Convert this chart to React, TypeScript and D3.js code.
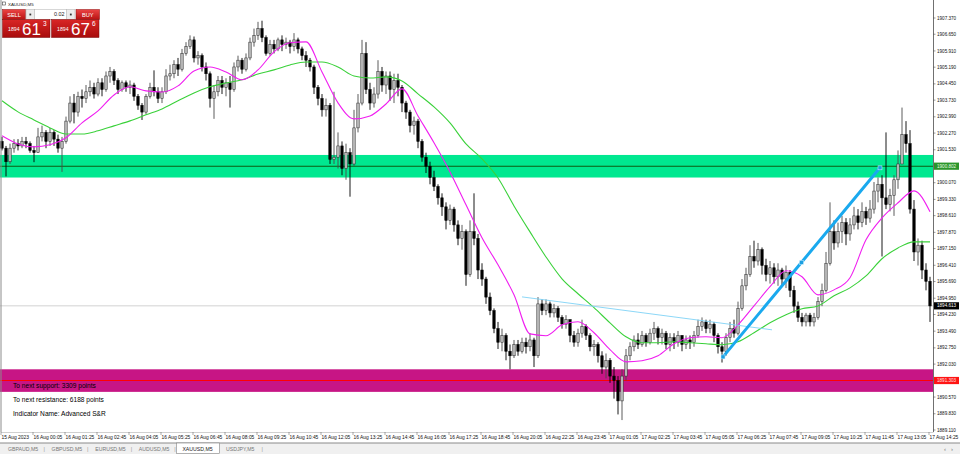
import React, { useEffect, useRef } from 'react';
import * as d3 from 'd3';

// XAUUSD M5 screenshot, resampled to one candle per 10 minutes (233 candles)
const symbol = 'XAUUSD,M5';
const firstOpen = 1901.9;

const closes = [
  1901.6, 1901.0, 1901.6, 1901.8, 1901.7, 1901.9, 1901.8, 1901.5, 1901.4, 1902.1,
  1902.3, 1901.9, 1902.3, 1902.0, 1901.6, 1901.9, 1902.8, 1903.6, 1903.2, 1903.9,
  1903.8, 1904.1, 1904.3, 1904.0, 1904.5, 1904.2, 1904.8, 1905.0, 1904.6, 1904.2,
  1904.5, 1904.3, 1904.4, 1903.9, 1903.5, 1903.2, 1903.9, 1904.3, 1904.1, 1903.8,
  1904.1, 1904.8, 1904.9, 1905.3, 1905.1, 1905.8, 1906.1, 1906.4, 1905.6, 1905.7,
  1905.2, 1904.9, 1903.8, 1904.1, 1904.6, 1904.3, 1904.5, 1904.2, 1905.2, 1905.5,
  1905.1, 1905.6, 1906.3, 1906.6, 1906.9, 1906.5, 1905.8, 1906.2, 1906.0, 1906.4,
  1906.2, 1906.3, 1906.1, 1906.4, 1906.0, 1905.7, 1905.5, 1905.2, 1904.3, 1903.8,
  1903.3, 1903.5, 1901.1, 1901.2, 1901.7, 1900.7, 1901.4, 1900.9, 1902.5, 1903.6,
  1905.8, 1904.2, 1903.6, 1904.0, 1905.0, 1904.4, 1904.8, 1904.2, 1904.6, 1904.3,
  1903.6, 1903.2, 1902.6, 1902.8, 1901.9, 1901.2, 1900.8, 1900.3, 1899.9, 1899.4,
  1899.0, 1898.4, 1898.9, 1898.2, 1897.6, 1897.9, 1896.0, 1897.9, 1897.6, 1896.2,
  1895.8, 1895.0, 1894.4, 1893.6, 1893.0, 1893.3, 1892.6, 1892.4, 1892.9, 1892.6,
  1893.0, 1892.8, 1893.1, 1892.4, 1894.7, 1894.4, 1894.7, 1894.3, 1894.5, 1894.1,
  1893.8, 1894.0, 1893.3, 1893.0, 1893.4, 1893.7, 1893.3, 1892.8, 1892.9, 1892.4,
  1891.9, 1892.2, 1891.5, 1891.3, 1890.4, 1891.5, 1892.4, 1892.8, 1893.1, 1892.9,
  1893.3, 1893.0, 1893.4, 1893.6, 1893.2, 1893.4, 1892.9, 1893.2, 1893.0, 1893.3,
  1892.9, 1893.1, 1893.0, 1893.3, 1893.7, 1893.9, 1893.6, 1893.8, 1893.3, 1892.8,
  1892.6, 1893.2, 1893.6, 1893.4, 1894.5, 1895.5, 1896.0, 1896.8, 1896.6, 1897.1,
  1896.4, 1896.0, 1896.3, 1895.9, 1896.2, 1895.8, 1896.1, 1895.3, 1894.6, 1894.1,
  1893.9, 1894.2, 1893.9, 1894.1, 1894.8, 1895.3, 1896.5, 1897.9, 1897.4, 1897.9,
  1898.3, 1897.8, 1898.2, 1898.6, 1898.3, 1898.8, 1898.5, 1898.9, 1899.7, 1900.0,
  1899.4, 1899.1, 1899.5, 1900.2, 1900.9, 1902.2, 1901.8, 1898.9, 1897.0, 1897.3,
  1896.2, 1895.7, 1894.61,
];

const highs = [
  1902.1, 1901.7, 1901.8, 1902.0, 1902.0, 1902.1, 1902.1, 1901.9, 1901.7, 1902.5,
  1902.6, 1902.4, 1902.5, 1902.4, 1902.2, 1902.1, 1903.0, 1903.9, 1904.0, 1904.1,
  1904.2, 1904.4, 1904.6, 1904.5, 1904.7, 1904.7, 1905.0, 1905.2, 1905.1, 1904.7,
  1904.6, 1904.6, 1904.6, 1904.5, 1904.0, 1903.6, 1904.0, 1904.5, 1905.05, 1904.3,
  1904.3, 1905.1, 1905.3, 1905.5, 1905.6, 1906.0, 1906.3, 1906.6, 1906.55, 1905.9,
  1905.8, 1905.4, 1905.0, 1904.4, 1904.8, 1904.8, 1904.7, 1904.8, 1905.4, 1905.7,
  1905.6, 1905.8, 1906.5, 1906.9, 1907.2, 1907.25, 1906.6, 1906.4, 1906.4, 1906.5,
  1906.6, 1906.5, 1906.4, 1906.7, 1906.5, 1906.1, 1905.9, 1905.6, 1905.3, 1904.4,
  1904.0, 1903.8, 1903.6, 1904.1, 1902.3, 1901.9, 1901.8, 1901.6, 1903.3, 1904.0,
  1906.4, 1906.3, 1904.5, 1904.3, 1905.5, 1905.2, 1905.0, 1905.0, 1904.9, 1904.9,
  1904.4, 1903.7, 1903.3, 1903.0, 1902.9, 1902.0, 1901.4, 1901.0, 1900.6, 1900.0,
  1899.6, 1899.2, 1899.1, 1899.0, 1898.4, 1898.2, 1898.0, 1898.4, 1899.6, 1897.8,
  1896.5, 1895.9, 1895.2, 1894.5, 1893.9, 1893.6, 1893.4, 1892.9, 1893.1, 1893.1,
  1893.2, 1893.2, 1893.4, 1893.2, 1895.0, 1894.9, 1894.9, 1894.8, 1894.7, 1894.6,
  1894.2, 1894.2, 1894.0, 1893.5, 1893.6, 1894.0, 1893.8, 1893.4, 1893.1, 1893.0,
  1892.6, 1892.5, 1892.3, 1891.9, 1891.5, 1891.8, 1892.7, 1893.0, 1893.3, 1893.4,
  1893.5, 1893.4, 1893.6, 1893.9, 1893.7, 1893.6, 1893.5, 1893.4, 1893.4, 1893.5,
  1893.3, 1893.3, 1893.3, 1893.5, 1894.0, 1894.1, 1894.0, 1894.0, 1893.9, 1893.4,
  1893.0, 1893.4, 1893.9, 1894.0, 1894.8, 1895.8, 1896.3, 1897.3, 1897.5, 1897.4,
  1897.2, 1896.7, 1896.6, 1896.5, 1896.5, 1896.3, 1896.4, 1896.2, 1895.5, 1894.8,
  1894.3, 1894.3, 1894.3, 1894.3, 1895.0, 1895.6, 1897.0, 1899.2, 1898.4, 1898.3,
  1898.6, 1898.5, 1898.5, 1899.0, 1898.9, 1899.2, 1899.0, 1899.3, 1900.1, 1900.3,
  1900.4, 1902.3, 1899.8, 1900.4, 1901.5, 1903.4, 1902.8, 1902.4, 1899.3, 1897.6,
  1897.5, 1896.5, 1895.9,
];

const lows = [
  1901.5, 1900.35, 1900.9, 1901.4, 1901.5, 1901.6, 1901.6, 1901.4, 1900.98, 1901.4,
  1901.9, 1901.6, 1901.7, 1901.7, 1901.4, 1900.55, 1901.8, 1902.7, 1902.7, 1903.0,
  1903.4, 1903.6, 1903.9, 1903.8, 1903.9, 1903.9, 1904.1, 1904.5, 1904.4, 1904.0,
  1904.1, 1904.1, 1904.0, 1903.7, 1903.3, 1902.85, 1903.1, 1903.8, 1903.9, 1903.6,
  1903.6, 1904.0, 1904.6, 1904.7, 1904.8, 1905.0, 1905.7, 1906.0, 1905.4, 1905.3,
  1905.0, 1904.6, 1903.4, 1902.9, 1903.9, 1904.0, 1903.9, 1903.4, 1904.1, 1905.0,
  1904.9, 1905.0, 1905.5, 1906.1, 1906.4, 1906.3, 1905.7, 1905.7, 1905.8, 1905.9,
  1905.9, 1906.0, 1905.8, 1905.9, 1905.8, 1905.5, 1905.2, 1905.0, 1904.0, 1903.5,
  1903.0, 1903.0, 1900.9, 1900.9, 1900.7, 1900.4, 1900.2, 1899.45, 1900.8, 1902.3,
  1903.5, 1904.0, 1903.3, 1903.4, 1903.8, 1904.1, 1904.0, 1903.7, 1903.6, 1903.9,
  1903.2, 1902.9, 1902.3, 1902.2, 1901.6, 1901.0, 1900.5, 1900.0, 1899.7, 1899.1,
  1898.6, 1898.0, 1898.2, 1897.9, 1897.3, 1897.1, 1895.5, 1895.9, 1897.3, 1895.8,
  1895.5, 1894.7, 1894.2, 1893.4, 1892.7, 1892.6, 1892.2, 1891.8, 1892.3, 1892.4,
  1892.5, 1892.5, 1892.6, 1891.9, 1892.3, 1894.2, 1894.2, 1894.1, 1894.1, 1893.9,
  1893.6, 1893.6, 1893.0, 1892.8, 1892.8, 1893.2, 1893.1, 1892.6, 1892.4, 1892.1,
  1891.6, 1891.4, 1891.2, 1890.5, 1889.8, 1889.55, 1891.3, 1892.2, 1892.6, 1892.7,
  1892.8, 1892.8, 1892.9, 1893.1, 1892.9, 1892.9, 1892.7, 1892.6, 1892.7, 1892.8,
  1892.6, 1892.7, 1892.7, 1892.8, 1893.2, 1893.5, 1893.4, 1893.4, 1893.0, 1892.5,
  1892.1, 1892.4, 1893.0, 1893.2, 1893.3, 1894.4, 1895.3, 1895.9, 1896.3, 1896.4,
  1896.0, 1895.7, 1895.6, 1895.6, 1895.5, 1895.5, 1895.4, 1895.0, 1894.3, 1893.9,
  1893.7, 1893.7, 1893.7, 1893.7, 1894.0, 1894.6, 1895.2, 1896.4, 1897.1, 1897.2,
  1897.4, 1897.3, 1897.5, 1898.0, 1898.0, 1898.1, 1898.2, 1898.3, 1898.7, 1899.2,
  1896.8, 1898.9, 1898.8, 1898.6, 1899.8, 1900.9, 1901.4, 1898.7, 1896.6, 1896.4,
  1895.8, 1895.3, 1893.9,
];

// moving averages, one reading every 4 candles
const maStep = 4;
const maFast = [
  1902.15, 1901.79, 1901.66, 1901.75, 1902.06, 1902.72, 1903.25, 1903.96, 1904.32, 1904.14,
  1904.09, 1904.36, 1905.02, 1905.20, 1904.98, 1904.63, 1905.07, 1905.87, 1906.27, 1906.31,
  1904.98, 1903.61, 1902.90, 1903.03, 1903.56, 1904.23, 1903.03, 1901.84, 1900.55, 1899.09,
  1897.63, 1896.43, 1895.10, 1893.37, 1893.29, 1893.77, 1893.91, 1893.42, 1892.67, 1892.13,
  1892.18, 1892.40, 1892.93, 1893.20, 1893.24, 1893.20, 1893.77, 1894.61, 1895.46, 1896.17,
  1895.90, 1895.10, 1895.32, 1895.86, 1897.54, 1898.51, 1899.18, 1899.71, 1898.78,
];
const maSlow = [
  1903.70, 1903.21, 1902.85, 1902.50, 1902.23, 1902.23, 1902.37, 1902.59, 1902.81, 1903.08,
  1903.34, 1903.70, 1904.05, 1904.32, 1904.49, 1904.63, 1904.89, 1905.07, 1905.29, 1905.42,
  1905.42, 1905.20, 1904.80, 1904.71, 1904.76, 1904.58, 1904.01, 1903.43, 1902.72, 1901.79,
  1901.13, 1900.28, 1899.04, 1897.89, 1896.78, 1895.81, 1895.15, 1894.53, 1893.86, 1893.24,
  1892.98, 1892.98, 1893.02, 1892.98, 1892.93, 1892.89, 1893.02, 1893.42, 1893.86, 1894.22,
  1894.48, 1894.61, 1895.06, 1895.41, 1895.94, 1896.70, 1897.18, 1897.45, 1897.45,
];

const priceTicks = [
  1907.37, 1906.65, 1905.91, 1905.19, 1904.45, 1903.73, 1902.99, 1902.27, 1901.53,
  1900.07, 1899.33, 1898.61, 1897.87, 1897.15, 1896.41, 1895.69, 1894.95, 1894.23,
  1893.49, 1892.75, 1892.03, 1890.57, 1889.83, 1889.11,
];

const timeLabels = [
  '15 Aug 2023', '16 Aug 00:05', '16 Aug 01:25', '16 Aug 02:45', '16 Aug 04:05', '16 Aug 05:25',
  '16 Aug 06:45', '16 Aug 08:05', '16 Aug 09:25', '16 Aug 10:45', '16 Aug 12:05', '16 Aug 13:25',
  '16 Aug 14:45', '16 Aug 16:05', '16 Aug 17:25', '16 Aug 18:45', '16 Aug 20:05', '16 Aug 22:25',
  '16 Aug 23:45', '17 Aug 01:05', '17 Aug 02:25', '17 Aug 03:45', '17 Aug 05:05', '17 Aug 06:25',
  '17 Aug 07:45', '17 Aug 09:05', '17 Aug 10:25', '17 Aug 11:45', '17 Aug 13:05', '17 Aug 14:25',
];
const labelEvery = 8;

const resistanceZone = [1900.30, 1901.30];
const resistanceLevel = 1900.802;
const supportZone = [1890.80, 1891.80];
const supportLevel = 1891.303;
const lastPrice = 1894.613;

// [candle index, price]
const trendLine = [[130, 1895.01], [192.5, 1893.55]];
const arrowLine = [[180.25, 1892.35], [219.5, 1900.73]];

const infoLines = [
  'To next support: 3309 points',
  'To next resistance: 6188 points',
  'Indicator Name: Advanced S&R',
];

const tabs = ['GBPAUD,M5', 'GBPUSD,M5', 'EURUSD,M5', 'AUDUSD,M5', 'XAUUSD,M5', 'USDJPY,M5'];
const activeTab = 'XAUUSD,M5';

const sellQuote = { big: '1894', pips: '61', frac: '3' };
const buyQuote = { big: '1894', pips: '67', frac: '6' };
const lotSize = '0.02';

const W = 960;
const H = 454;
const FONT = "'Liberation Sans', Arial, sans-serif";

export default function App() {
  const svgRef = useRef<SVGSVGElement>(null);

  useEffect(() => {
    document.body.style.margin = '0';
    if (!svgRef.current) return;
    const svg = d3.select(svgRef.current);
    svg.selectAll('*').remove();

    const plotRight = 933;
    const plotBottom = 432;

    const x = d3.scaleLinear().domain([0, closes.length - 1]).range([2, 930]);
    const y = d3.scaleLinear().domain([1889.11, 1907.37]).range([430, 18]);

    svg.append('rect').attr('width', W).attr('height', H).attr('fill', '#fff');

    const defs = svg.append('defs');
    const grad = defs.append('linearGradient').attr('id', 'btnRed').attr('x1', 0).attr('y1', 0).attr('x2', 0).attr('y2', 1);
    grad.append('stop').attr('offset', '0%').attr('stop-color', '#ec4444');
    grad.append('stop').attr('offset', '100%').attr('stop-color', '#b81212');
    const grad2 = defs.append('linearGradient').attr('id', 'quoteRed').attr('x1', 0).attr('y1', 0).attr('x2', 0).attr('y2', 1);
    grad2.append('stop').attr('offset', '0%').attr('stop-color', '#d92626');
    grad2.append('stop').attr('offset', '100%').attr('stop-color', '#a80c0c');

    const plot = svg.append('g');

    // support / resistance zones
    const zones = [
      { z: resistanceZone, lvl: resistanceLevel, fill: '#00E890', line: '#0d5c12' },
      { z: supportZone, lvl: supportLevel, fill: '#C71585', line: '#ff0000' },
    ];
    zones.forEach(d => {
      plot.append('rect')
        .attr('x', 0).attr('width', plotRight)
        .attr('y', y(d.z[1])).attr('height', y(d.z[0]) - y(d.z[1]))
        .attr('fill', d.fill);
      plot.append('line')
        .attr('x1', 0).attr('x2', plotRight)
        .attr('y1', y(d.lvl)).attr('y2', y(d.lvl))
        .attr('stroke', d.line).attr('stroke-width', 1.1);
    });

    // last price line
    plot.append('line')
      .attr('x1', 0).attr('x2', plotRight)
      .attr('y1', y(lastPrice)).attr('y2', y(lastPrice))
      .attr('stroke', '#c8c8c8').attr('stroke-width', 0.8);

    // candles
    const bars = closes.map((c, i) => {
      const o = i === 0 ? firstOpen : closes[i - 1];
      return { i, o, c, h: Math.max(highs[i], o, c), l: Math.min(lows[i], o, c) };
    });
    const candles = plot.append('g');
    candles.selectAll('line')
      .data(bars)
      .join('line')
      .attr('x1', d => x(d.i)).attr('x2', d => x(d.i))
      .attr('y1', d => y(d.h)).attr('y2', d => y(d.l))
      .attr('stroke', d => (d.c >= d.o ? '#4a4a4a' : '#000'))
      .attr('stroke-width', 0.9);
    candles.selectAll('rect')
      .data(bars)
      .join('rect')
      .attr('x', d => x(d.i) - 1.2)
      .attr('width', 2.4)
      .attr('y', d => y(Math.max(d.o, d.c)))
      .attr('height', d => Math.max(0.8, Math.abs(y(d.o) - y(d.c))))
      .attr('fill', d => (d.c >= d.o ? '#c0c0c0' : '#000'))
      .attr('stroke', d => (d.c >= d.o ? '#2e2e2e' : '#000'))
      .attr('stroke-width', 0.55);

    // moving averages
    const maLine = d3.line<number>()
      .x((_, k) => x(k * maStep))
      .y(v => y(v))
      .curve(d3.curveMonotoneX);
    plot.append('path').attr('d', maLine(maSlow))
      .attr('fill', 'none').attr('stroke', '#3ad13a').attr('stroke-width', 1.1);
    plot.append('path').attr('d', maLine(maFast))
      .attr('fill', 'none').attr('stroke', '#f01ef0').attr('stroke-width', 1.1);

    // drawn objects
    plot.append('line')
      .attr('x1', x(trendLine[0][0])).attr('y1', y(trendLine[0][1]))
      .attr('x2', x(trendLine[1][0])).attr('y2', y(trendLine[1][1]))
      .attr('stroke', '#7fd2f6').attr('stroke-width', 0.9);

    const ax1 = x(arrowLine[0][0]);
    const ay1 = y(arrowLine[0][1]);
    const ax2 = x(arrowLine[1][0]);
    const ay2 = y(arrowLine[1][1]);
    plot.append('line')
      .attr('x1', ax1).attr('y1', ay1).attr('x2', ax2).attr('y2', ay2)
      .attr('stroke', '#1aa9ee').attr('stroke-width', 3).attr('stroke-linecap', 'round');
    [[ax1, ay1], [(ax1 + ax2) / 2, (ay1 + ay2) / 2], [ax2, ay2]].forEach(([px, py]) => {
      plot.append('rect')
        .attr('x', px - 2).attr('y', py - 2).attr('width', 4).attr('height', 4)
        .attr('fill', '#1c9fe0').attr('stroke', '#d8f2ff').attr('stroke-width', 0.5);
    });

    // indicator text
    infoLines.forEach((t, k) => {
      plot.append('text')
        .attr('x', 13).attr('y', 387.5 + k * 14)
        .attr('font-family', FONT).attr('font-size', 6.6)
        .attr('fill', '#000').text(t);
    });

    // frame
    svg.append('line').attr('x1', 1).attr('x2', 1).attr('y1', 0).attr('y2', plotBottom)
      .attr('stroke', '#8c8c8c').attr('stroke-width', 1);
    svg.append('line').attr('x1', plotRight + 0.5).attr('x2', plotRight + 0.5).attr('y1', 0).attr('y2', plotBottom)
      .attr('stroke', '#707070').attr('stroke-width', 1);
    svg.append('line').attr('x1', 1).attr('x2', plotRight + 0.5).attr('y1', plotBottom + 0.5).attr('y2', plotBottom + 0.5)
      .attr('stroke', '#b0b0b0').attr('stroke-width', 0.6);

    // price axis
    const pAxis = svg.append('g');
    priceTicks.forEach(p => {
      pAxis.append('line')
        .attr('x1', plotRight).attr('x2', plotRight + 2.5)
        .attr('y1', y(p)).attr('y2', y(p))
        .attr('stroke', '#555').attr('stroke-width', 0.6);
      pAxis.append('text')
        .attr('x', 937).attr('y', y(p)).attr('dy', '0.35em')
        .attr('font-family', FONT).attr('font-size', 4.6)
        .attr('fill', '#111').text(p.toFixed(3));
    });
    const tags = [
      { v: resistanceLevel, bg: '#2b952b', fg: '#eaffea' },
      { v: lastPrice, bg: '#000', fg: '#fff' },
      { v: supportLevel, bg: '#ff1414', fg: '#ffe0e0' },
    ];
    tags.forEach(t => {
      pAxis.append('rect')
        .attr('x', plotRight + 1).attr('y', y(t.v) - 3.6)
        .attr('width', 25).attr('height', 7.2).attr('fill', t.bg);
      pAxis.append('text')
        .attr('x', 937).attr('y', y(t.v)).attr('dy', '0.35em')
        .attr('font-family', FONT).attr('font-size', 4.6)
        .attr('fill', t.fg).text(t.v.toFixed(3));
    });

    // time axis
    const tAxis = svg.append('g');
    timeLabels.forEach((t, k) => {
      const tx = k === 0 ? 1 : x(k * labelEvery) - 1;
      tAxis.append('line')
        .attr('x1', tx).attr('x2', tx).attr('y1', plotBottom).attr('y2', plotBottom + 3)
        .attr('stroke', '#555').attr('stroke-width', 0.5);
      tAxis.append('text')
        .attr('x', tx + 0.5).attr('y', 439)
        .attr('font-family', FONT).attr('font-size', 4.9)
        .attr('fill', '#111').text(t);
    });

    // tab bar
    svg.append('rect').attr('x', 0).attr('y', 443).attr('width', W).attr('height', H - 443).attr('fill', '#f0f0f0');
    svg.append('line').attr('x1', 0).attr('x2', W).attr('y1', 443).attr('y2', 443)
      .attr('stroke', '#8a8a8a').attr('stroke-width', 1);
    tabs.forEach((t, k) => {
      const tx = 8 + k * 43.6;
      if (t === activeTab) {
        svg.append('rect').attr('x', tx - 6).attr('y', 443).attr('width', 43).attr('height', 10.5)
          .attr('fill', '#fff').attr('stroke', '#808080').attr('stroke-width', 0.6);
      } else {
        svg.append('text').attr('x', tx + 35.5).attr('y', 451)
          .attr('font-family', FONT).attr('font-size', 5.5).attr('fill', '#999').text('|');
      }
      svg.append('text').attr('x', tx).attr('y', 451)
        .attr('font-family', FONT).attr('font-size', 5.2)
        .attr('fill', t === activeTab ? '#222' : '#777').text(t);
    });
    ['‹', '›'].forEach((s, k) => {
      svg.append('text').attr('x', 944 + k * 7).attr('y', 451)
        .attr('font-family', FONT).attr('font-size', 6).attr('fill', '#777').text(s);
    });

    // one-click trading panel
    const panel = svg.append('g');
    panel.append('rect').attr('x', 2.5).attr('y', 2).attr('width', 3).attr('height', 3)
      .attr('fill', '#fff').attr('stroke', '#444').attr('stroke-width', 0.6);
    panel.append('text').attr('x', 8).attr('y', 6.3)
      .attr('font-family', FONT).attr('font-size', 4.4).attr('fill', '#222').text(symbol);

    const btn = (bx: number, w: number, label: string) => {
      panel.append('rect').attr('x', bx).attr('y', 9.5).attr('width', w).attr('height', 10)
        .attr('fill', 'url(#btnRed)').attr('stroke', '#8c0a0a').attr('stroke-width', 0.5);
      panel.append('text').attr('x', bx + w / 2).attr('y', 16.6).attr('text-anchor', 'middle')
        .attr('font-family', FONT).attr('font-size', 5.6).attr('fill', '#fff').text(label);
    };
    btn(2.5, 23, 'SELL');
    btn(76, 23.5, 'BUY');
    [26, 66.5].forEach(bx => {
      panel.append('rect').attr('x', bx).attr('y', 9.5).attr('width', 8.5).attr('height', 10)
        .attr('fill', '#ececec').attr('stroke', '#b0b0b0').attr('stroke-width', 0.5);
      panel.append('rect').attr('x', bx + 3.4).attr('y', 13.6).attr('width', 1.8).attr('height', 1.8).attr('fill', '#333');
    });
    panel.append('rect').attr('x', 34.5).attr('y', 9.5).attr('width', 32).attr('height', 10)
      .attr('fill', '#fff').attr('stroke', '#b0b0b0').attr('stroke-width', 0.5);
    panel.append('text').attr('x', 64.5).attr('y', 16.4).attr('text-anchor', 'end')
      .attr('font-family', FONT).attr('font-size', 5.4).attr('fill', '#222').text(lotSize);

    const quote = (qx: number, q: { big: string; pips: string; frac: string }) => {
      panel.append('rect').attr('x', qx).attr('y', 19.5).attr('width', 47.5).attr('height', 18)
        .attr('fill', 'url(#quoteRed)').attr('stroke', '#7a0808').attr('stroke-width', 0.5);
      panel.append('text').attr('x', qx + 5.5).attr('y', 30.5)
        .attr('font-family', FONT).attr('font-size', 5.2).attr('fill', '#fff').text(q.big);
      panel.append('text').attr('x', qx + 19.5).attr('y', 34.5)
        .attr('font-family', FONT).attr('font-size', 17).attr('fill', '#fff').text(q.pips);
      panel.append('text').attr('x', qx + 40.5).attr('y', 26)
        .attr('font-family', FONT).attr('font-size', 6.5).attr('fill', '#fff').text(q.frac);
    };
    quote(2.5, sellQuote);
    quote(51.5, buyQuote);
  }, []);

  return <svg ref={svgRef} width={W} height={H} style={{ display: 'block' }} />;
}
